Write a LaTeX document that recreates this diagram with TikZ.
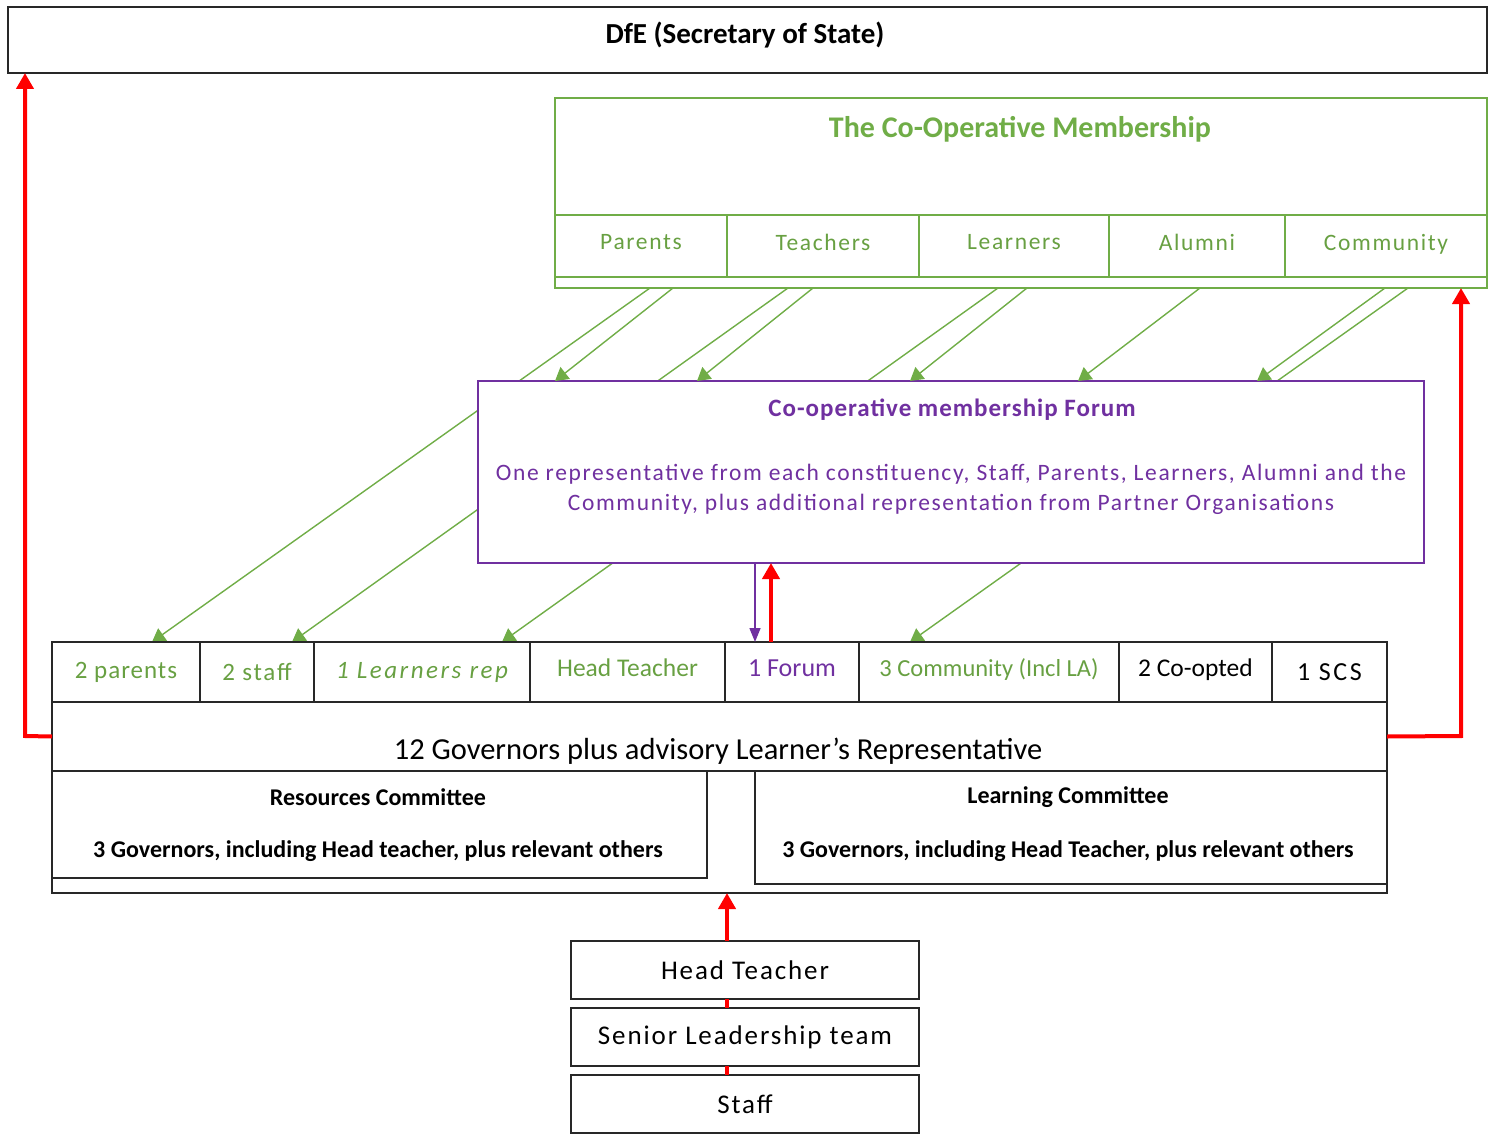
\documentclass[tikz,border=0pt]{standalone}
\usepackage{fontspec}
\setmainfont{Carlito}
\newfontfamily\wa[LetterSpace=4]{Carlito}
\newfontfamily\wb[LetterSpace=7]{Carlito}
\newfontfamily\wc[LetterSpace=10]{Carlito}
\usetikzlibrary{arrows.meta,calc,backgrounds}
\definecolor{cgreen}{RGB}{112,173,71}
\definecolor{tgreen}{RGB}{104,160,66}
\definecolor{cpurple}{RGB}{112,48,160}
\definecolor{cred}{RGB}{255,0,0}
\definecolor{dline}{RGB}{40,40,40}
\begin{document}
\begin{tikzpicture}[x=1pt,y=-1pt,
  rbox/.style={anchor=north west,inner sep=0pt,outer sep=0pt,draw=#1},
  blk/.style={rbox=dline,line width=1.4pt,fill=white},
  gcell/.style={rbox=cgreen,line width=1.2pt,text=tgreen,text depth=8pt,font=\wb\fontsize{23.5}{26}\selectfont},
  kcell/.style={rbox=dline,line width=1.4pt,font=\fontsize{25}{28}\selectfont},
  lbl/.style={inner sep=0pt,anchor=center},
  garr/.style={draw=cgreen,line width=1.4pt,-{Triangle[length=13pt,width=15pt]}},
  redarr/.style={draw=cred,line width=4pt,-{Triangle[length=16pt,width=17pt]}},
  purarr/.style={draw=cpurple,line width=1.5pt,-{Triangle[length=14pt,width=11pt]}}
]
\useasboundingbox (0,0) rectangle (1493,1134);

% DfE
\node[blk,line width=1.8pt,minimum width=1479pt,minimum height=66pt] (dfe) at (8,7) {};
\node[lbl,font=\fontsize{29}{32}\selectfont\bfseries] (dfet) at (745,35) {DfE (Secretary of State)};

% Co-operative membership
\node[rbox=cgreen,line width=2.6pt,minimum width=932pt,minimum height=190pt] (mem) at (555,98) {};
\node[lbl,text=cgreen,font=\fontsize{30}{33}\selectfont\bfseries] (memt) at (1020,129) {The Co-Operative Membership};
\node[gcell,minimum width=172pt,minimum height=62pt] (mpar) at (555,215) {Parents};
\node[gcell,minimum width=192pt,minimum height=62pt] (mtea) at (727,215) {Teachers};
\node[gcell,minimum width=190pt,minimum height=62pt] (mlea) at (919,215) {Learners};
\node[gcell,minimum width=176pt,minimum height=62pt] (malu) at (1109,215) {Alumni};
\node[gcell,minimum width=202pt,minimum height=62pt] (mcom) at (1285,215) {Community};

% Governors
\node[rbox=dline,line width=2.2pt,minimum width=1335pt,minimum height=251pt] (gov) at (52,642) {};
\node[kcell,text=tgreen,minimum width=148pt,minimum height=60pt,font=\wa\fontsize{25}{28}\selectfont] (g1) at (52,642) {2 parents};
\node[kcell,text=tgreen,minimum width=114pt,minimum height=60pt,font=\wb\fontsize{25}{28}\selectfont] (g2) at (200,642) {2 staff};
\node[kcell,text=tgreen,minimum width=216pt,minimum height=60pt,font=\wc\fontsize{25}{28}\selectfont\itshape] (g3) at (314,642) {1 Learners rep};
\node[kcell,text=tgreen,minimum width=195pt,minimum height=60pt,text depth=8pt,font=\fontsize{25.5}{28}\selectfont] (g4) at (530,642) {Head Teacher};
\node[kcell,text=cpurple,minimum width=134pt,minimum height=60pt,text depth=8pt,font=\fontsize{26}{28}\selectfont] (g5) at (725,642) {1 Forum};
\node[kcell,text=tgreen,minimum width=260pt,minimum height=60pt,text depth=8pt,font=\fontsize{24.5}{28}\selectfont] (g6) at (859,642) {3 Community (Incl LA)};
\node[kcell,minimum width=153pt,minimum height=60pt,text depth=8pt,font=\fontsize{25.5}{28}\selectfont] (g7) at (1119,642) {2 Co-opted};
\node[kcell,minimum width=115pt,minimum height=60pt,font=\wc\fontsize{26}{28}\selectfont] (g8) at (1272,642) {1 SCS};
\node[kcell,minimum width=1335pt,minimum height=69pt] (gmain) at (52,702) {};
\node[lbl,font=\fontsize{30.5}{33}\selectfont] (gmaint) at (718,751) {12 Governors plus advisory Learner's Representative};
\node[kcell,minimum width=655pt,minimum height=107pt] (res) at (52,771) {};
\node[lbl,font=\fontsize{24}{28}\selectfont\bfseries] (rest) at (378,797) {Resources Committee};
\node[lbl,font=\fontsize{24}{28}\selectfont\bfseries] (resb) at (378,851) {3 Governors, including Head teacher, plus relevant others};
\node[kcell,minimum width=632pt,minimum height=113pt] (lrn) at (755,771) {};
\node[lbl,font=\fontsize{24}{28}\selectfont\bfseries] (lrnt) at (1068,797) {Learning Committee};
\node[lbl,font=\fontsize{24}{28}\selectfont\bfseries] (lrnb) at (1068,851) {3 Governors, including Head Teacher, plus relevant others};

% Forum
\node[rbox=cpurple,line width=1.5pt,fill=white,minimum width=946pt,minimum height=182pt] (forum) at (478,381) {};
\node[lbl,text=cpurple,font=\wa\fontsize{25}{28}\selectfont\bfseries] (fort) at (952,410) {Co-operative membership Forum};
\node[lbl,text=cpurple,font=\wb\fontsize{23.5}{26}\selectfont] (forb1) at (951,474) {One representative from each constituency, Staff, Parents, Learners, Alumni and the};
\node[lbl,text=cpurple,font=\wb\fontsize{23.5}{26}\selectfont] (forb2) at (951,504) {Community, plus additional representation from Partner Organisations};

% green connectors
\coordinate (s1) at (650,288); \coordinate (s2) at (673,288);
\coordinate (s3) at (788,288); \coordinate (s4) at (813,288);
\coordinate (s5) at (998,288); \coordinate (s6) at (1027,288);
\coordinate (s7) at (1200,288);
\coordinate (s8) at (1385,288); \coordinate (s9) at (1408,288);
\coordinate (e2) at (555,381); \coordinate (e4) at (697,381);
\coordinate (e6) at (910,381); \coordinate (e7) at (1078,381);
\coordinate (e8) at (1257,381);
\begin{scope}[on background layer]
\draw[garr] (s1) -- ([xshift=26pt]g1.north);
\draw[garr] (s3) -- ([xshift=35pt]g2.north);
\draw[garr] (s5) -- ([xshift=80pt]g3.north);
\draw[garr] (s9) -- ([xshift=-79pt]g6.north);
\end{scope}
\draw[garr] (s2) -- (e2);
\draw[garr] (s4) -- (e4);
\draw[garr] (s6) -- (e6);
\draw[garr] (s7) -- (e7);
\draw[garr] (s8) -- (e8);

% red and purple connectors
\coordinate (lc) at (25,736);
\coordinate (rc) at (1461,736);
\draw[redarr] (gmain.west) -- (lc) -- (lc |- dfe.south);
\draw[redarr] (gmain.east) -- (rc) -- (rc |- mem.south);
\draw[purarr] ([xshift=-196pt]forum.south) -- ([xshift=-196pt]forum.south |- gov.north);
\draw[redarr] ([xshift=-180pt]forum.south |- gov.north) -- ([xshift=-180pt]forum.south);

% bottom boxes
\node[blk,minimum width=348pt,minimum height=58pt,font=\wb\fontsize{27}{30}\selectfont] (ht) at (571,941) {Head Teacher};
\node[blk,minimum width=348pt,minimum height=58pt,font=\wb\fontsize{27}{30}\selectfont] (slt) at (571,1008) {Senior Leadership team};
\node[blk,minimum width=348pt,minimum height=58pt,font=\wb\fontsize{27}{30}\selectfont] (stf) at (571,1075) {Staff};
\draw[redarr] ([xshift=-18pt]ht.north) -- ([xshift=-18pt]ht.north |- gov.south);
\draw[cred,line width=4pt] ([xshift=-18pt]ht.south) -- ([xshift=-18pt]slt.north);
\draw[cred,line width=4pt] ([xshift=-18pt]slt.south) -- ([xshift=-18pt]stf.north);
\end{tikzpicture}
\end{document}
